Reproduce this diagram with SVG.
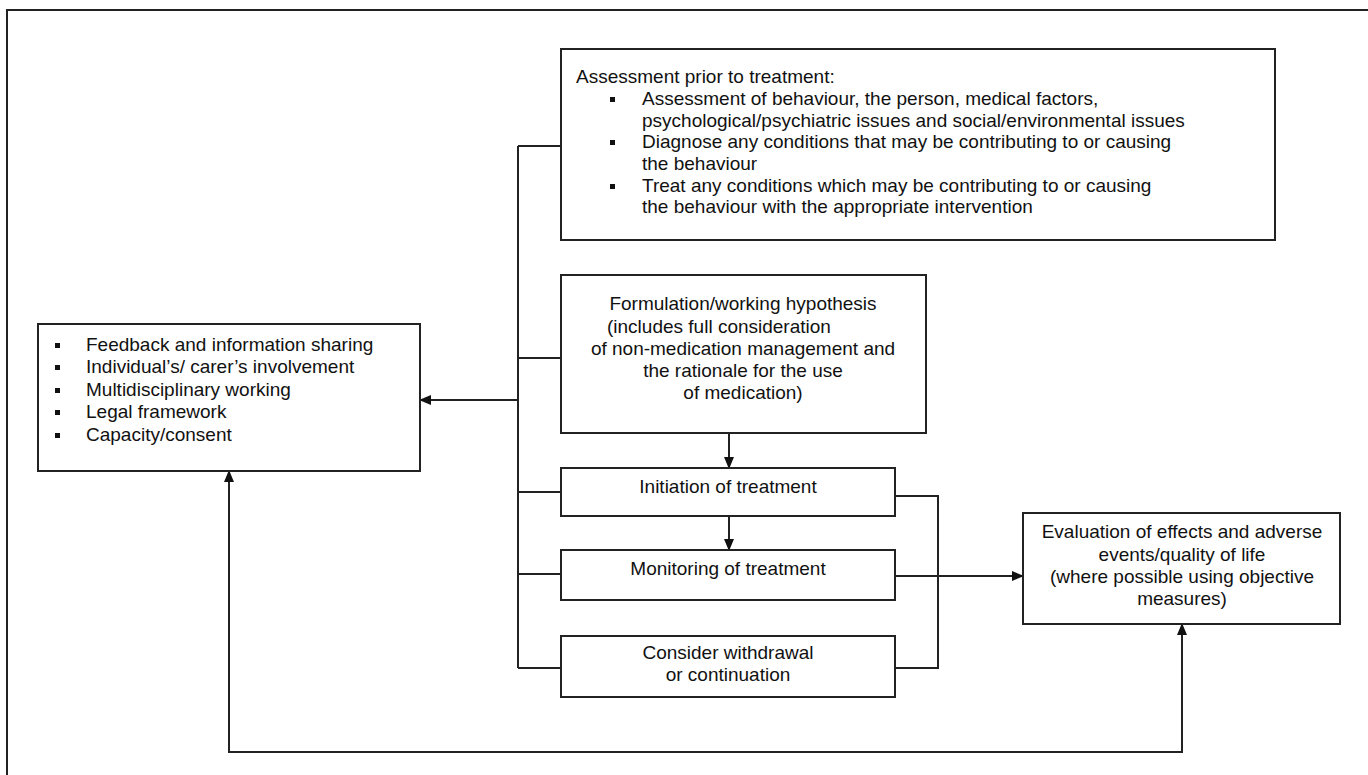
<svg xmlns="http://www.w3.org/2000/svg" width="1368" height="775" viewBox="0 0 1368 775">
<style>
  .box{fill:#fff;stroke:#222;stroke-width:2}
  .ln{fill:none;stroke:#222;stroke-width:2}
  text{font-family:"Liberation Sans",Arial,sans-serif;font-size:19px;fill:#111}
  .c{text-anchor:middle}
  .b{fill:#111}
</style>
<defs>
  <marker id="ah" markerWidth="12" markerHeight="10" refX="11" refY="5" orient="auto" markerUnits="userSpaceOnUse">
    <path d="M0,0 L12,5 L0,10 Z" fill="#111"/>
  </marker>
</defs>
<rect width="1368" height="775" fill="#fff"/>
<path class="ln" d="M7,775 V10 H1368"/>

<g id="connectors">
  <path class="ln" d="M518,146 V668"/>
  <path class="ln" d="M518,146 H561 M518,358 H561 M518,492 H561 M518,574 H561 M518,668 H561"/>
  <path class="ln" d="M518,400 H420" marker-end="url(#ah)"/>
  <path class="ln" d="M729,433 V468" marker-end="url(#ah)"/>
  <path class="ln" d="M729,516 V550" marker-end="url(#ah)"/>
  <path class="ln" d="M895,496 H938 V668 H895"/>
  <path class="ln" d="M895,576 H1023" marker-end="url(#ah)"/>
  <path class="ln" d="M700,752 H229 V471" marker-end="url(#ah)"/>
  <path class="ln" d="M700,752 H1182 V624" marker-end="url(#ah)"/>
</g>

<g id="assessment">
  <rect class="box" x="561" y="49" width="714" height="191"/>
  <text x="576" y="83">Assessment prior to treatment:</text>
  <rect class="b" x="610" y="97" width="5" height="5"/>
  <text x="642" y="105">Assessment of behaviour, the person, medical factors,</text>
  <text x="642" y="126.5">psychological/psychiatric issues and social/environmental issues</text>
  <rect class="b" x="610" y="140" width="5" height="5"/>
  <text x="642" y="148">Diagnose any conditions that may be contributing to or causing</text>
  <text x="642" y="170">the behaviour</text>
  <rect class="b" x="610" y="184" width="5" height="5"/>
  <text x="642" y="192">Treat any conditions which may be contributing to or causing</text>
  <text x="642" y="213">the behaviour with the appropriate intervention</text>
</g>

<g id="principles">
  <rect class="box" x="38" y="324" width="382" height="147"/>
  <rect class="b" x="55" y="343" width="5" height="5"/>
  <text x="86" y="351">Feedback and information sharing</text>
  <rect class="b" x="55" y="365" width="5" height="5"/>
  <text x="86" y="373">Individual’s/ carer’s involvement</text>
  <rect class="b" x="55" y="388" width="5" height="5"/>
  <text x="86" y="396">Multidisciplinary working</text>
  <rect class="b" x="55" y="410" width="5" height="5"/>
  <text x="86" y="418">Legal framework</text>
  <rect class="b" x="55" y="433" width="5" height="5"/>
  <text x="86" y="441">Capacity/consent</text>
</g>

<g id="formulation">
  <rect class="box" x="561" y="275" width="365" height="158"/>
  <text class="c" x="743" y="310">Formulation/working hypothesis</text>
  <text x="607" y="333">(includes full consideration</text>
  <text class="c" x="743" y="355">of non-medication management and</text>
  <text class="c" x="743" y="377">the rationale for the use</text>
  <text class="c" x="743" y="399">of medication)</text>
</g>

<g id="initiation">
  <rect class="box" x="561" y="468" width="334" height="48"/>
  <text class="c" x="728" y="493">Initiation of treatment</text>
</g>

<g id="monitoring">
  <rect class="box" x="561" y="550" width="334" height="50"/>
  <text class="c" x="728" y="575">Monitoring of treatment</text>
</g>

<g id="consider">
  <rect class="box" x="561" y="636" width="334" height="61"/>
  <text class="c" x="728" y="659">Consider withdrawal</text>
  <text class="c" x="728" y="681">or continuation</text>
</g>

<g id="evaluation">
  <rect class="box" x="1023" y="513" width="317" height="111"/>
  <text class="c" x="1182" y="538">Evaluation of effects and adverse</text>
  <text class="c" x="1182" y="561">events/quality of life</text>
  <text class="c" x="1182" y="583">(where possible using objective</text>
  <text class="c" x="1182" y="605">measures)</text>
</g>
</svg>
